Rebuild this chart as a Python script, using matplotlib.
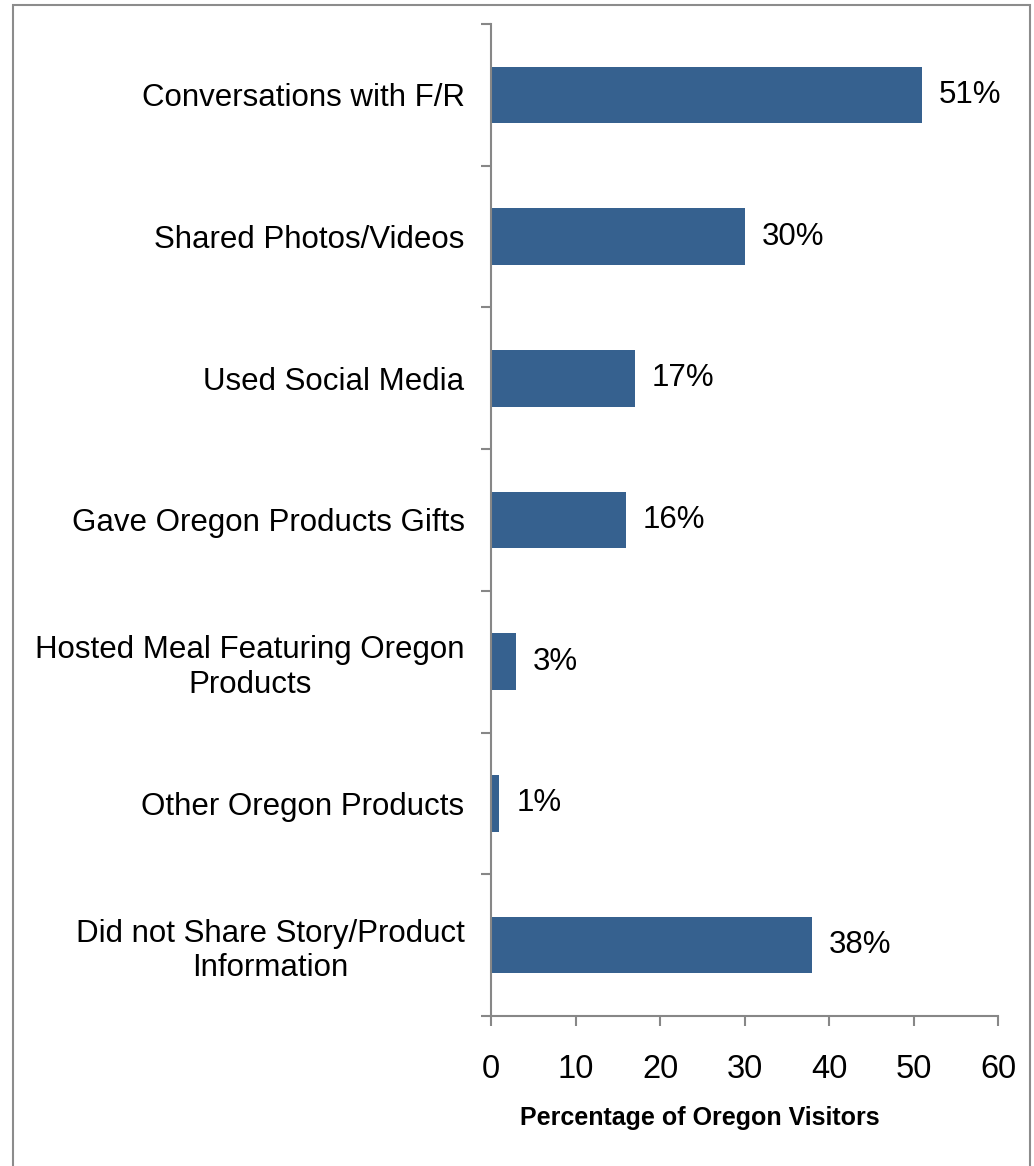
import matplotlib
matplotlib.use("Agg")
import matplotlib.pyplot as plt
from matplotlib.patches import Rectangle
from matplotlib.ticker import FixedLocator

plt.rcParams['font.family'] = ['Liberation Sans', 'DejaVu Sans']

categories = [
    "Conversations with F/R",
    "Shared Photos/Videos",
    "Used Social Media",
    "Gave Oregon Products Gifts",
    "Hosted Meal Featuring Oregon\nProducts",
    "Other Oregon Products",
    "Did not Share Story/Product\nInformation",
]
values = [51, 30, 17, 16, 3, 1, 38]
x_ticks = [0, 10, 20, 30, 40, 50, 60]
x_label = "Percentage of Oregon Visitors"

W, H = 1034, 1166
fig = plt.figure(figsize=(W / 100, H / 100), dpi=100)
fig.patch.set_facecolor("white")

# Outer frame around the whole chart area
fig.add_artist(Rectangle((12.5 / W, -0.02), (1030 - 12.5) / W, (H - 4.5) / H + 0.02,
                         transform=fig.transFigure, fill=False,
                         edgecolor="#8c8c8c", linewidth=1.5))

ax = fig.add_axes([491 / W, 1 - 1016 / H, (998 - 491) / W, (1016 - 24) / H])

axis_gray = "#878787"
bar_color = "#36618f"
n = len(categories)
centers = [i + 0.5 for i in range(n)]

ax.barh(centers, values, height=0.4, color=bar_color, zorder=2)

for c, v in zip(centers, values):
    ax.text(v + 2.0, c, f"{v}%", va="center", ha="left", fontsize=22.5, color="black")

ax.set_xlim(0, 60)
ax.set_ylim(n, 0)

ax.set_xticks(x_ticks)
ax.set_xticklabels([str(t) for t in x_ticks], fontsize=23.5)
ax.tick_params(axis="x", length=7, width=1.5, color=axis_gray, pad=20, direction="out")

# Category boundaries carry the tick marks; labels sit at category centres
ax.yaxis.set_major_locator(FixedLocator(list(range(n + 1))))
ax.set_yticklabels([])
ax.yaxis.set_minor_locator(FixedLocator(centers))
ax.set_yticklabels(categories, minor=True, fontsize=22.5, multialignment="center")
ax.tick_params(axis="y", which="major", length=7, width=1.5, color=axis_gray, direction="out")
ax.tick_params(axis="y", which="minor", length=0, pad=19)

for side in ("top", "right"):
    ax.spines[side].set_visible(False)
for side in ("left", "bottom"):
    ax.spines[side].set_color(axis_gray)
    ax.spines[side].set_linewidth(1.5)

fig.text(700 / W, 1 - 1118 / H, x_label, ha="center", va="center",
         fontsize=18, fontweight="bold", color="black")

fig.savefig("out.png", dpi=100, facecolor="white")
